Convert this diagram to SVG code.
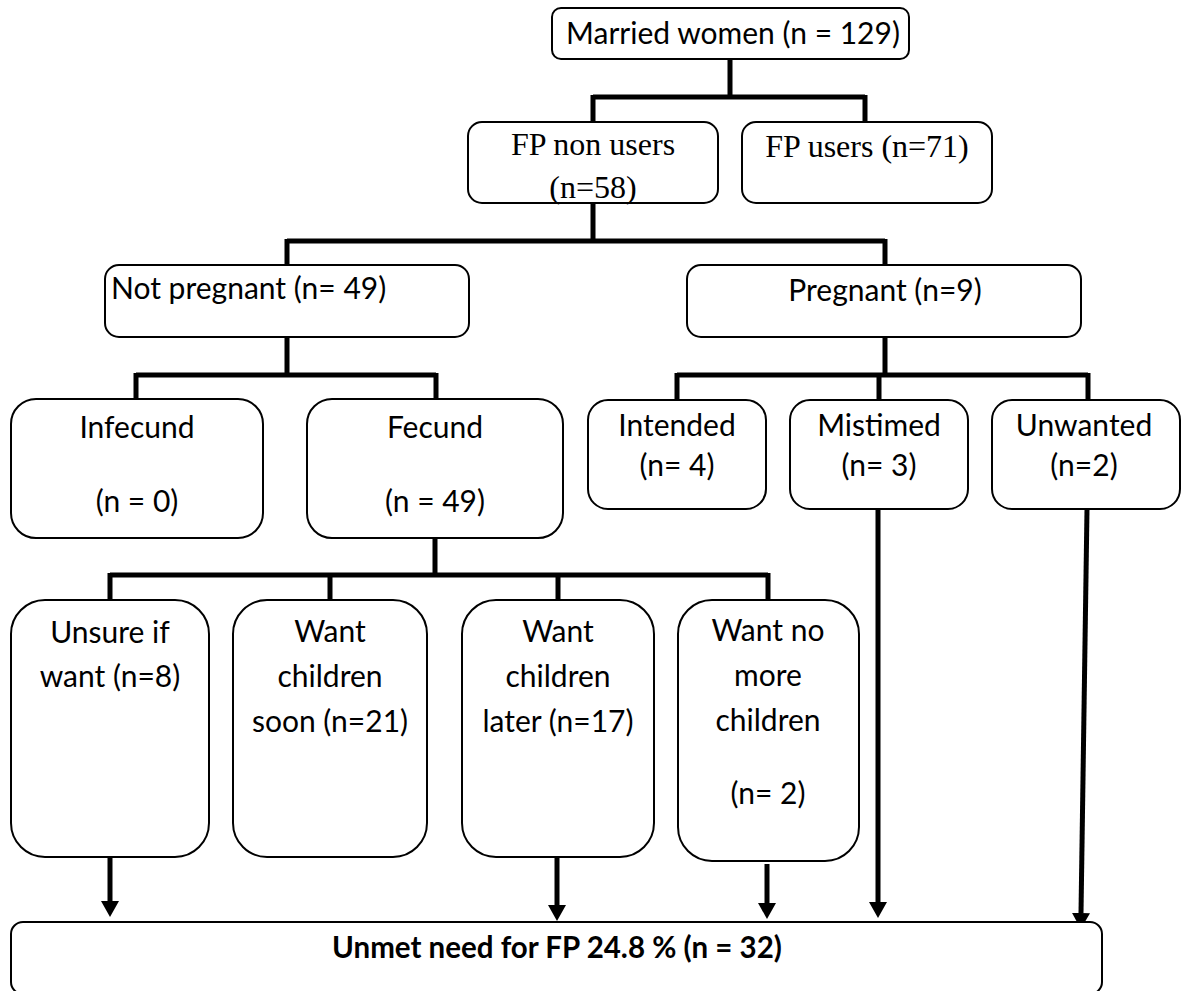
<svg xmlns="http://www.w3.org/2000/svg" width="1182" height="991" viewBox="0 0 1182 991">
<defs>
<style>
.box{fill:#fff;stroke:#000;stroke-width:2}
.t{font-family:Lato,"Liberation Sans",sans-serif;font-size:30px;fill:#000;text-anchor:middle}
.s{font-family:"Liberation Serif","Times New Roman",serif;font-size:32px;fill:#000;text-anchor:middle}
.b{font-weight:bold;font-size:29.5px}
.c{fill:none;stroke:#000;stroke-width:5}
</style>
<marker id="ah" viewBox="0 0 16 18" refX="0" refY="9" markerWidth="16" markerHeight="18" markerUnits="userSpaceOnUse" orient="auto">
<path d="M0,0 L16,9 L0,18 Z" fill="#000"/>
</marker>
</defs>
<rect width="1182" height="991" fill="#fff"/>
<g id="connectors">
<path class="c" d="M730,59 V97 M593,97 H865 M593,95 V122 M865,95 V122"/>
<path class="c" d="M593,203 V241 M287,241 H885 M287,239 V265 M885,239 V265"/>
<path class="c" d="M287,337 V375 M136,375 H436 M136,373 V400 M436,373 V400"/>
<path class="c" d="M885,337 V375 M677,375 H1088 M677,373 V400 M879,373 V400 M1088,373 V400"/>
<path class="c" d="M435,538 V575 M110,575 H768 M110,573 V600 M330,573 V600 M558,573 V600 M768,573 V600"/>
<path class="c" d="M110,851 V901" marker-end="url(#ah)"/>
<path class="c" d="M557,850 V905" stroke-width="7" marker-end="url(#ah)"/>
<path class="c" d="M767,864 V903" marker-end="url(#ah)"/>
<path class="c" d="M878,509 V902" marker-end="url(#ah)"/>
<path class="c" d="M1087,509 L1081,913" marker-end="url(#ah)"/>
</g>
<g id="n-married"><rect class="box" x="552" y="8" width="357" height="51" rx="9"/><text class="t" x="733" y="44">Married women (n = 129)</text></g>
<g id="n-nonusers"><rect class="box" x="468" y="122" width="250" height="81" rx="14"/><text class="s" x="593" y="155">FP non users</text><text class="s" x="593" y="198">(n=58)</text></g>
<g id="n-users"><rect class="box" x="742" y="122" width="250" height="81" rx="14"/><text class="s" x="867" y="157">FP users (n=71)</text></g>
<g id="n-notpreg"><rect class="box" x="105" y="265" width="364" height="72" rx="14"/><text class="t" x="111" y="299" style="text-anchor:start">Not pregnant (n= 49)</text></g>
<g id="n-preg"><rect class="box" x="687" y="265" width="394" height="72" rx="14"/><text class="t" x="885" y="301">Pregnant (n=9)</text></g>
<g id="n-infecund"><rect class="box" x="11" y="399" width="252" height="139" rx="25"/><text class="t" x="137" y="438">Infecund</text><text class="t" x="137" y="512">(n = 0)</text></g>
<g id="n-fecund"><rect class="box" x="307" y="399" width="256" height="139" rx="25"/><text class="t" x="435" y="438">Fecund</text><text class="t" x="435" y="512">(n = 49)</text></g>
<g id="n-intended"><rect class="box" x="588" y="400" width="178" height="109" rx="20"/><text class="t" x="677" y="436">Intended</text><text class="t" x="677" y="476">(n= 4)</text></g>
<g id="n-mistimed"><rect class="box" x="790" y="400" width="178" height="109" rx="20"/><text class="t" x="879" y="436">Mistimed</text><text class="t" x="879" y="476">(n= 3)</text></g>
<g id="n-unwanted"><rect class="box" x="992" y="400" width="188" height="109" rx="20"/><text class="t" x="1084" y="436">Unwanted</text><text class="t" x="1084" y="476">(n=2)</text></g>
<g id="n-unsure"><rect class="box" x="11" y="600" width="198" height="257" rx="34"/><text class="t" x="110" y="643">Unsure if</text><text class="t" x="110" y="687">want (n=8)</text></g>
<g id="n-soon"><rect class="box" x="233" y="600" width="194" height="257" rx="34"/><text class="t" x="330" y="642">Want</text><text class="t" x="330" y="687">children</text><text class="t" x="330" y="732">soon (n=21)</text></g>
<g id="n-later"><rect class="box" x="462" y="600" width="192" height="257" rx="34"/><text class="t" x="558" y="642">Want</text><text class="t" x="558" y="687">children</text><text class="t" x="558" y="732">later (n=17)</text></g>
<g id="n-nomore"><rect class="box" x="678" y="600" width="181" height="261" rx="34"/><text class="t" x="768" y="641">Want no</text><text class="t" x="768" y="686">more</text><text class="t" x="768" y="731">children</text><text class="t" x="768" y="804">(n= 2)</text></g>
<g id="n-unmet"><rect class="box" x="11" y="922" width="1091" height="72" rx="12"/><text class="t b" x="557" y="958">Unmet need for FP 24.8 % (n = 32)</text></g>
</svg>
